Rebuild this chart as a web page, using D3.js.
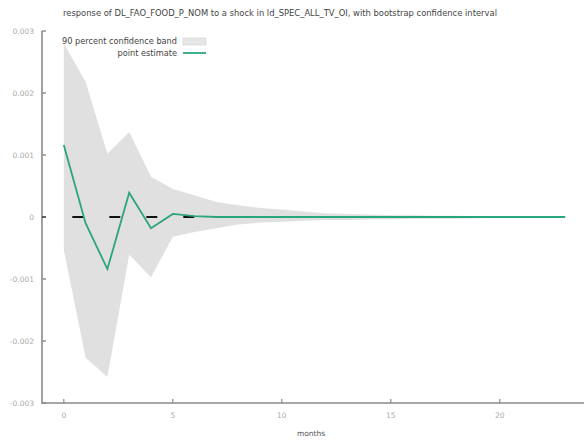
<!DOCTYPE html>
<html><head><meta charset="utf-8">
<script src="https://cdn.jsdelivr.net/npm/d3@7"></script>
<style>body{margin:0;background:#fff}svg{display:block}text{font-family:"DejaVu Sans",sans-serif}</style>
</head><body>
<script>
const months = d3.range(0, 24);
const estimate = [0.00116,-0.00010,-0.00084,0.00039,-0.00018,0.00005,0.000015,0,0,0,0,0,0,0,0,0,0,0,0,0,0,0,0,0];
const upper = [0.00280,0.00218,0.00102,0.00137,0.00065,0.00045,0.00035,0.00024,0.00019,0.000145,0.00012,0.00009,0.00006,0.00005,0.00004,0.00003,0.00003,0.00002,0.00002,0.00001,0.00001,0.000008,0.000006,0.000005];
const lower = [-0.00053,-0.00227,-0.00258,-0.00061,-0.00097,-0.00032,-0.00024,-0.00018,-0.00012,-0.00009,-0.000075,-0.00006,-0.00005,-0.00005,-0.00004,-0.00004,-0.00003,-0.00003,-0.00003,-0.00002,-0.00001,-0.000008,-0.000006,-0.000005];
const yTicks = [0.003,0.002,0.001,0,-0.001,-0.002,-0.003];
const yTickLabels = ["0.003","0.002","0.001","0","-0.001","-0.002","-0.003"];
const xTicks = [0,5,10,15,20];
const title = "response of DL_FAO_FOOD_P_NOM to a shock in ld_SPEC_ALL_TV_OI, with bootstrap confidence interval";
const legendLabels = ["90 percent confidence band","point estimate"];

const W=584,H=444;
const svg=d3.select("body").append("svg").attr("width",W).attr("height",H);
const x=d3.scaleLinear().domain([-1,24]).range([42,587]);
const y=d3.scaleLinear().domain([-0.003,0.003]).range([403,31]);

// band
svg.append("path").datum(months)
 .attr("d",d3.area().x(d=>x(d)).y0((d,i)=>y(lower[i])).y1((d,i)=>y(upper[i])))
 .attr("fill","#e0e0e0");

// zero dashed line
svg.append("line").attr("x1",x(0)).attr("x2",x(6)).attr("y1",y(0)).attr("y2",y(0))
 .attr("stroke","#111").attr("stroke-width",2).attr("stroke-dasharray","11,26").attr("stroke-dashoffset",28.5);

// estimate
svg.append("path").datum(months)
 .attr("d",d3.line().x(d=>x(d)).y((d,i)=>y(estimate[i])))
 .attr("fill","none").attr("stroke","#2ba57a").attr("stroke-width",1.8);

// axes
const axCol="#8a8a8a";
svg.append("path").attr("d",`M${x(-1)},${y(0.003)}V${y(-0.003)}H${W}`).attr("fill","none").attr("stroke",axCol).attr("stroke-width",1.6);
const ya=svg.append("g");
yTicks.forEach((t,i)=>{
  ya.append("line").attr("x1",x(-1)).attr("x2",x(-1)+4).attr("y1",y(t)).attr("y2",y(t)).attr("stroke",t===0?"#222":axCol).attr("stroke-width",1.4);
  ya.append("text").attr("x",34).attr("y",y(t)+3).attr("text-anchor","end").attr("font-size",7.5).attr("fill","#aaaaaa").text(yTickLabels[i]);
});
xTicks.forEach(t=>{
  svg.append("line").attr("x1",x(t)).attr("x2",x(t)).attr("y1",y(-0.003)).attr("y2",y(-0.003)-4).attr("stroke",axCol).attr("stroke-width",1.2);
  svg.append("text").attr("x",x(t)).attr("y",418).attr("text-anchor","middle").attr("font-size",7.5).attr("fill","#aaaaaa").text(t);
});
svg.append("text").attr("x",311).attr("y",436).attr("text-anchor","middle").attr("font-size",7.5).attr("fill","#555").text("months");

// title
svg.append("text").attr("x",280).attr("y",16).attr("text-anchor","middle").attr("font-size",8.4).attr("fill","#444").text(title);

// legend
svg.append("text").attr("x",177).attr("y",44).attr("text-anchor","end").attr("font-size",8.2).attr("fill","#444").text(legendLabels[0]);
svg.append("rect").attr("x",183).attr("y",38).attr("width",23).attr("height",7).attr("fill","#e6e6e6").attr("stroke","#d8d8d8").attr("stroke-width",0.8);
svg.append("text").attr("x",177).attr("y",56).attr("text-anchor","end").attr("font-size",8.2).attr("fill","#444").text(legendLabels[1]);
svg.append("line").attr("x1",183).attr("x2",206).attr("y1",53).attr("y2",53).attr("stroke","#2ba57a").attr("stroke-width",1.8);
</script>
</body></html>
